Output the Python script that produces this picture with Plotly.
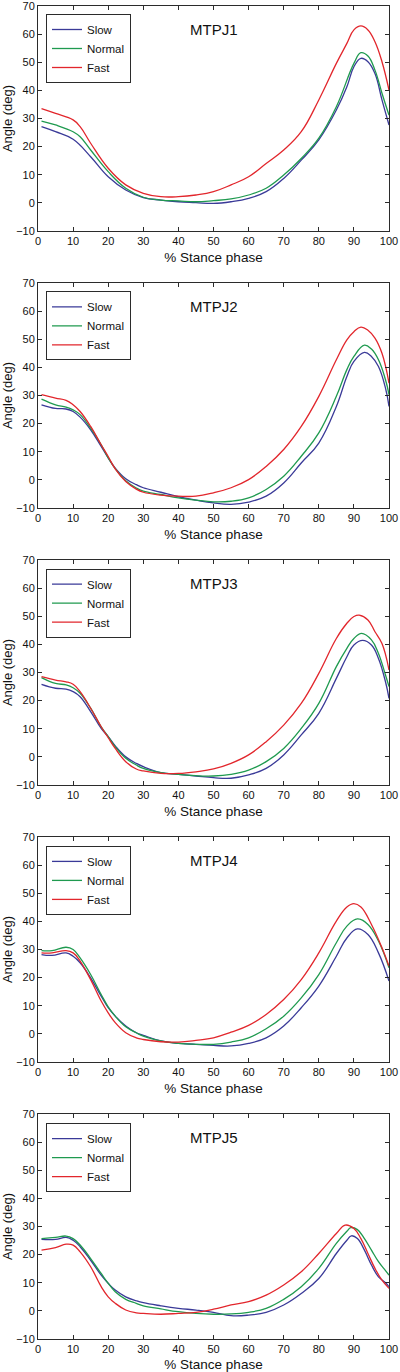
import plotly.graph_objects as go
from plotly.subplots import make_subplots

# ---------------- data ----------------
panel_titles = ["MTPJ1", "MTPJ2", "MTPJ3", "MTPJ4", "MTPJ5"]
series_names = ["Slow", "Normal", "Fast"]
series_colors = ["#3a3a98", "#1f9a4f", "#e2262c"]

x_ticks = [0, 10, 20, 30, 40, 50, 60, 70, 80, 90, 100]
y_ticks = [-10, 0, 10, 20, 30, 40, 50, 60, 70]

# MTPJ1
mtpj1_slow_x = [1, 5, 10, 15, 20, 25, 30, 35, 40, 45, 50, 55, 60, 65, 70, 75, 80, 85, 88, 90, 92, 94, 96, 98, 100]
mtpj1_slow_y = [27.1, 25.3, 22.6, 16.4, 9.3, 4.6, 1.9, 1.0, 0.4, 0.1, -0.2, 0.4, 1.6, 4.0, 8.7, 15.2, 22.4, 33.0, 41.3, 48.4, 51.4, 50.2, 46.0, 36.6, 27.7]
mtpj1_normal_x = [1, 5, 10, 12, 15, 20, 25, 30, 35, 40, 45, 50, 55, 60, 65, 70, 75, 80, 85, 90, 92, 94, 96, 98, 100]
mtpj1_normal_y = [29.1, 27.7, 25.3, 23.5, 18.8, 11.1, 5.2, 2.0, 1.0, 0.7, 0.4, 0.8, 1.4, 2.8, 5.2, 9.9, 15.8, 23.0, 34.2, 49.6, 53.4, 52.2, 47.2, 39.0, 31.2]
mtpj1_fast_x = [1, 5, 10, 12, 15, 20, 25, 30, 35, 40, 45, 50, 55, 60, 65, 70, 75, 80, 85, 88, 90, 92, 94, 96, 98, 100]
mtpj1_fast_y = [33.5, 31.8, 29.5, 27.1, 21.2, 12.3, 6.4, 3.4, 2.2, 2.2, 2.8, 4.0, 6.4, 9.3, 14.0, 18.8, 25.3, 36.6, 49.6, 56.7, 61.5, 62.9, 61.5, 57.3, 50.2, 40.1]

# MTPJ2
mtpj2_slow_x = [1, 5, 8, 10, 12, 15, 18, 20, 22, 25, 28, 30, 35, 40, 45, 50, 55, 60, 65, 70, 75, 80, 85, 88, 90, 93, 95, 97, 99, 100]
mtpj2_slow_y = [26.7, 25.4, 25.2, 24.3, 22.3, 17.8, 11.9, 7.8, 4.2, 0.4, -1.7, -2.8, -4.4, -6.0, -7.2, -8.2, -8.7, -7.9, -5.8, -1.1, 6.0, 13.1, 26.1, 36.8, 42.1, 45.3, 43.9, 40.3, 32.6, 26.1]
mtpj2_normal_x = [1, 5, 8, 10, 12, 15, 18, 20, 22, 25, 28, 30, 35, 40, 45, 50, 55, 60, 65, 70, 75, 80, 85, 88, 90, 93, 95, 97, 99, 100]
mtpj2_normal_y = [28.7, 26.7, 25.9, 24.9, 23.2, 18.4, 12.5, 7.8, 4.0, -0.3, -2.9, -4.0, -5.2, -6.4, -7.2, -7.8, -7.6, -6.4, -3.4, 1.3, 8.4, 16.7, 29.7, 39.2, 43.9, 47.9, 46.5, 42.7, 35.6, 30.3]
mtpj2_fast_x = [1, 5, 8, 10, 12, 15, 18, 20, 22, 25, 28, 30, 35, 40, 45, 50, 55, 60, 65, 70, 75, 80, 85, 88, 90, 92, 94, 96, 98, 100]
mtpj2_fast_y = [30.3, 29.1, 28.3, 26.7, 24.3, 19.0, 12.5, 8.3, 3.9, -0.6, -3.3, -4.4, -5.4, -5.8, -5.8, -4.6, -2.8, 0.1, 4.8, 10.8, 19.0, 29.7, 42.7, 49.8, 52.7, 54.3, 53.2, 50.4, 45.0, 34.4]

# MTPJ3
mtpj3_slow_x = [1, 5, 8, 10, 12, 15, 18, 20, 22, 25, 28, 30, 35, 40, 45, 50, 55, 60, 65, 70, 75, 80, 85, 88, 90, 92.5, 95, 97, 99, 100]
mtpj3_slow_y = [25.8, 24.4, 24.1, 23.2, 21.4, 16.1, 10.1, 7.2, 3.9, 0.0, -2.3, -3.5, -5.6, -6.2, -6.8, -7.4, -7.6, -6.4, -4.1, 0.7, 7.8, 15.5, 27.9, 35.6, 39.8, 41.4, 39.8, 35.0, 26.7, 20.8]
mtpj3_normal_x = [1, 5, 8, 10, 12, 15, 18, 20, 22, 25, 28, 30, 35, 40, 45, 50, 55, 60, 65, 70, 75, 80, 85, 88, 90, 92.2, 95, 97, 99, 100]
mtpj3_normal_y = [28.2, 26.1, 25.6, 24.6, 22.6, 17.3, 10.7, 7.2, 3.6, -0.5, -2.9, -4.1, -5.6, -6.2, -6.7, -6.8, -6.2, -4.7, -1.7, 3.0, 10.1, 19.0, 32.1, 38.6, 42.1, 43.9, 41.6, 36.8, 29.1, 25.0]
mtpj3_fast_x = [1, 5, 8, 10, 12, 15, 18, 20, 22, 25, 28, 30, 35, 40, 45, 50, 55, 60, 65, 70, 75, 80, 85, 88, 90, 91.5, 94, 96, 98, 100]
mtpj3_fast_y = [28.5, 27.3, 26.7, 25.8, 23.2, 17.3, 10.7, 6.8, 3.0, -1.7, -4.3, -5.0, -5.9, -5.9, -5.3, -4.3, -2.3, 0.7, 5.4, 11.3, 19.0, 29.7, 42.1, 47.5, 49.9, 50.4, 48.7, 44.5, 40.3, 30.9]

# MTPJ4
mtpj4_slow_x = [1, 4, 8, 10, 12, 15, 18, 20, 22, 25, 28, 30, 35, 40, 45, 50, 55, 60, 65, 70, 75, 80, 85, 88, 91, 94, 97, 100]
mtpj4_slow_y = [28.2, 27.9, 28.8, 27.6, 25.3, 19.9, 13.4, 9.3, 6.3, 2.8, 0.4, -0.5, -2.5, -3.4, -3.7, -4.1, -4.3, -3.4, -1.4, 2.8, 9.3, 17.0, 27.6, 34.1, 37.3, 35.3, 28.8, 18.8]
mtpj4_normal_x = [1, 4, 8, 10, 12, 15, 18, 20, 22, 25, 28, 30, 35, 40, 45, 50, 55, 60, 65, 70, 75, 80, 85, 88, 91, 94, 97, 100]
mtpj4_normal_y = [29.6, 29.6, 30.8, 30.0, 27.0, 21.1, 14.0, 9.6, 6.3, 2.5, 0.4, -0.8, -2.5, -3.4, -3.7, -3.7, -2.9, -1.4, 1.8, 6.3, 12.8, 21.1, 32.4, 38.3, 40.9, 38.9, 33.0, 23.5]
mtpj4_fast_x = [1, 4, 8, 10, 12, 15, 18, 20, 22, 25, 28, 30, 35, 40, 45, 50, 55, 60, 65, 70, 75, 80, 85, 88, 90, 92, 95, 98, 100]
mtpj4_fast_y = [28.8, 28.8, 29.6, 28.8, 25.9, 19.3, 11.7, 7.5, 4.0, 0.4, -1.4, -2.0, -2.8, -2.9, -2.3, -1.4, 0.6, 3.0, 6.9, 12.2, 19.3, 28.8, 40.1, 45.1, 46.3, 45.1, 38.9, 30.6, 24.1]

# MTPJ5
mtpj5_slow_x = [1, 5, 8, 10, 12, 15, 18, 20, 22, 25, 28, 30, 35, 40, 45, 50, 55, 60, 65, 70, 75, 80, 85, 88, 89.3, 91, 93, 95, 97, 99, 100]
mtpj5_slow_y = [25.4, 25.4, 26.1, 25.1, 22.8, 18.0, 12.7, 9.8, 7.4, 5.0, 3.6, 2.9, 1.8, 0.9, 0.3, -0.5, -1.7, -1.5, -0.5, 2.1, 6.2, 11.5, 20.4, 25.1, 26.7, 25.7, 21.6, 16.3, 12.1, 10.0, 8.6]
mtpj5_normal_x = [1, 5, 8, 10, 12, 15, 18, 20, 22, 25, 28, 30, 35, 40, 45, 50, 55, 60, 65, 70, 75, 80, 85, 88, 89.1, 91, 93, 95, 97, 99, 100]
mtpj5_normal_y = [25.7, 26.1, 26.6, 25.7, 23.4, 18.6, 13.3, 9.8, 6.8, 4.1, 2.7, 1.8, 0.7, -0.3, -0.9, -1.2, -1.1, -0.5, 0.9, 4.1, 8.6, 15.1, 24.0, 28.3, 29.6, 28.9, 25.7, 21.6, 17.5, 14.3, 12.7]
mtpj5_fast_x = [1, 5, 8, 10, 12, 15, 18, 20, 22, 25, 28, 30, 35, 40, 45, 50, 55, 60, 65, 70, 75, 80, 85, 87.5, 90, 92, 94, 96, 98, 100]
mtpj5_fast_y = [21.6, 22.5, 23.7, 23.4, 21.0, 15.7, 8.6, 5.0, 2.7, 0.3, -0.7, -0.9, -1.2, -0.9, -0.5, 0.6, 2.1, 3.3, 5.6, 9.2, 13.9, 20.4, 27.5, 30.5, 29.3, 25.7, 20.4, 15.1, 10.9, 8.0]

panels = [
    [(mtpj1_slow_x, mtpj1_slow_y), (mtpj1_normal_x, mtpj1_normal_y), (mtpj1_fast_x, mtpj1_fast_y)],
    [(mtpj2_slow_x, mtpj2_slow_y), (mtpj2_normal_x, mtpj2_normal_y), (mtpj2_fast_x, mtpj2_fast_y)],
    [(mtpj3_slow_x, mtpj3_slow_y), (mtpj3_normal_x, mtpj3_normal_y), (mtpj3_fast_x, mtpj3_fast_y)],
    [(mtpj4_slow_x, mtpj4_slow_y), (mtpj4_normal_x, mtpj4_normal_y), (mtpj4_fast_x, mtpj4_fast_y)],
    [(mtpj5_slow_x, mtpj5_slow_y), (mtpj5_normal_x, mtpj5_normal_y), (mtpj5_fast_x, mtpj5_fast_y)],
]

# ---------------- layout ----------------
W, H = 400, 1372
M_T, M_B, M_L, M_R = 6, 33, 38, 11
PLOT_H = H - M_T - M_B
PANEL_H = 225.3
GAP = 52.0
FONT = "Liberation Sans, Arial, Helvetica, sans-serif"
AXIS_COLOR = "#2b2b2b"
TEXT_COLOR = "#111111"

fig = make_subplots(rows=5, cols=1, vertical_spacing=GAP / PLOT_H)

for i, (title, series) in enumerate(zip(panel_titles, panels)):
    row = i + 1
    legend_name = "legend" if i == 0 else f"legend{i + 1}"
    for name, color, (xs, ys) in zip(series_names, series_colors, series):
        fig.add_trace(
            go.Scatter(
                x=xs, y=ys, mode="lines", name=name,
                line=dict(color=color, width=1.3, shape="spline", smoothing=1.2),
                legend=legend_name, showlegend=True,
            ),
            row=row, col=1,
        )
    suffix = "" if row == 1 else str(row)
    fig.add_annotation(
        text=title, x=50, y=61.5, xref=f"x{suffix}", yref=f"y{suffix}",
        showarrow=False, font=dict(size=15, family=FONT, color=TEXT_COLOR),
        xanchor="center", yanchor="middle",
    )
    top_px = i * (PANEL_H + GAP)
    fig.update_layout(**{
        legend_name: dict(
            x=8 / (W - M_L - M_R), xanchor="left",
            y=1 - (top_px + 8) / PLOT_H, yanchor="top",
            bgcolor="white", bordercolor=AXIS_COLOR, borderwidth=1,
            font=dict(size=11.5, family=FONT, color=TEXT_COLOR),
            itemwidth=30, tracegroupgap=0,
        )
    })

fig.update_xaxes(
    range=[0, 100], tickvals=x_ticks, ticks="inside", ticklen=4, tickwidth=1,
    tickcolor=AXIS_COLOR, showline=True, linecolor=AXIS_COLOR, linewidth=1,
    mirror="ticks", showgrid=False, zeroline=False, ticklabeloverflow="allow",
    tickfont=dict(size=11, family=FONT, color=TEXT_COLOR),
    title=dict(text="% Stance phase", font=dict(size=13.5, family=FONT, color=TEXT_COLOR), standoff=6),
    automargin=False,
)
fig.update_yaxes(
    range=[-10, 70], tickvals=y_ticks, ticktext=[("\u221210" if v == -10 else str(v)) for v in y_ticks],
    ticks="inside", ticklen=4, tickwidth=1,
    tickcolor=AXIS_COLOR, showline=True, linecolor=AXIS_COLOR, linewidth=1,
    mirror="ticks", showgrid=False, zeroline=False, ticklabeloverflow="allow",
    tickfont=dict(size=11, family=FONT, color=TEXT_COLOR),
    title=dict(text="Angle (deg)", font=dict(size=13, family=FONT, color=TEXT_COLOR), standoff=2),
    automargin=False,
)

fig.update_layout(
    template="none",
    width=W, height=H,
    margin=dict(l=M_L, r=M_R, t=M_T, b=M_B),
    paper_bgcolor="white", plot_bgcolor="white",
    font=dict(family=FONT, color=TEXT_COLOR),
)

fig.write_html(
    "out.html",
    config={"displayModeBar": False},
    post_script="document.body.style.margin='0';document.body.style.padding='0';",
)
